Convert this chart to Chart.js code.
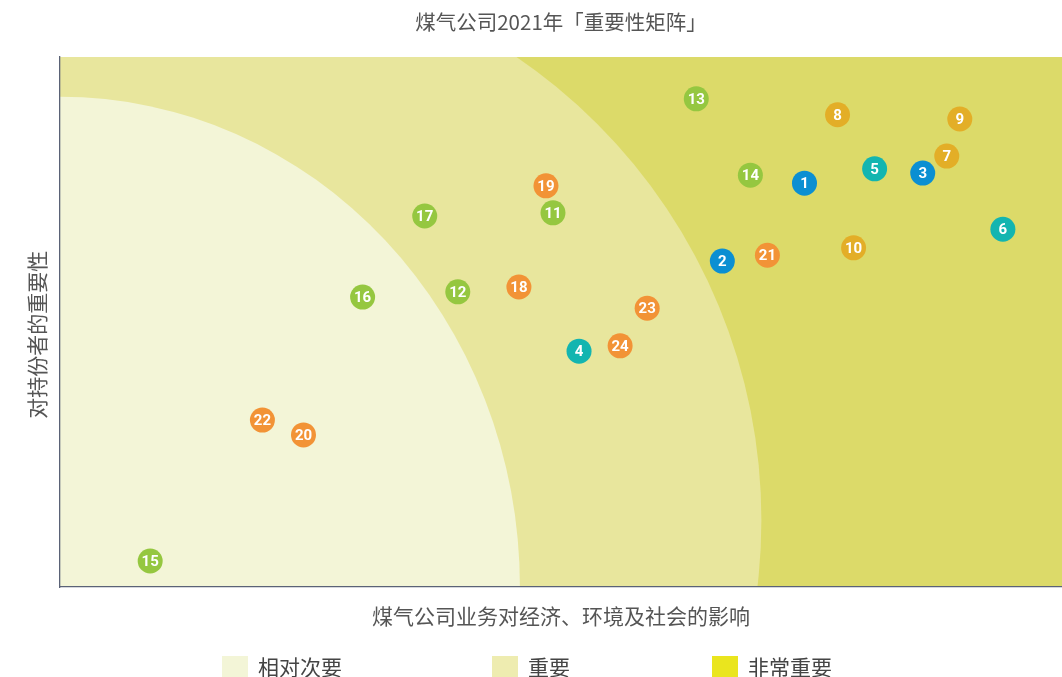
<!DOCTYPE html>
<html>
<head>
<meta charset="utf-8">
<script src="https://cdn.jsdelivr.net/npm/chart.js@4"></script>
<style>
  html, body { margin: 0; padding: 0; background: #fff; overflow: hidden; }
  #wrap { width: 1062px; height: 677px; position: relative; }
  canvas { display: block; }
</style>
</head>
<body>
<div id="wrap"><canvas id="matrix"></canvas></div>
<script>
// numbered issues on the materiality matrix
const issueIds = [1, 2, 3, 4, 5, 6, 7, 8, 9, 10, 11, 12, 13, 14, 15, 16, 17, 18, 19, 20, 21, 22, 23, 24];
// x: impact of the business on economy, environment and society
const impactX = [74.3, 66.1, 86.1, 51.8, 81.3, 94.1, 88.5, 77.6, 89.8, 79.2, 49.2, 39.7, 63.5, 68.9, 9.0, 30.2, 36.4, 45.8, 48.5, 24.3, 70.6, 20.2, 58.6, 55.9];
// y: importance to stakeholders
const importanceY = [76.2, 61.5, 78.1, 44.5, 78.9, 67.5, 81.3, 89.1, 88.3, 64.0, 70.6, 55.7, 92.1, 77.7, 4.9, 54.7, 70.0, 56.6, 75.7, 28.7, 62.6, 31.5, 52.6, 45.5];
const issueGroup = ['blue', 'blue', 'blue', 'teal', 'teal', 'teal', 'gold', 'gold', 'gold', 'gold', 'green', 'green', 'green', 'green', 'green', 'green', 'green', 'orange', 'orange', 'orange', 'orange', 'orange', 'orange', 'orange'];

const zoneLabels = ['相对次要', '重要', '非常重要'];

const groupColors = {
  blue: '#0b8fd2',
  teal: '#13b5b0',
  gold: '#e3ae27',
  green: '#95c740',
  orange: '#f29336'
};
const zoneColors = ['#f3f5d7', '#e8e69d', '#dcda69'];
const legendColors = ['#f3f5d7', '#eeecb0', '#eae51e'];

const cjk = "'Noto Sans CJK SC', 'Noto Sans', sans-serif";

// background zones, drawn through the scales (ellipses in data units)
const zonePlugin = {
  id: 'zones',
  beforeDraw(chart) {
    const { ctx, chartArea: a, scales: { x, y } } = chart;
    const ell = (cx, cy, rx, ry, color) => {
      const px = x.getPixelForValue(cx), py = y.getPixelForValue(cy);
      const prx = Math.abs(x.getPixelForValue(cx + rx) - px);
      const pry = Math.abs(y.getPixelForValue(cy + ry) - py);
      ctx.beginPath();
      ctx.ellipse(px, py, prx, pry, 0, 0, Math.PI * 2);
      ctx.fillStyle = color;
      ctx.fill();
    };
    ctx.save();
    ctx.beginPath();
    ctx.rect(a.left, a.top, a.right - a.left, a.bottom - a.top);
    ctx.clip();
    ctx.fillStyle = zoneColors[2];
    ctx.fillRect(a.left, a.top, a.right - a.left, a.bottom - a.top);
    ell(14, 12.6, 56, 105.8, zoneColors[1]);
    ell(0, 0, 45.9, 92.5, zoneColors[0]);
    ctx.restore();
  }
};

// numbers inside the dots
const numberPlugin = {
  id: 'numbers',
  afterDatasetsDraw(chart) {
    const { ctx } = chart;
    const meta = chart.getDatasetMeta(0);
    ctx.save();
    ctx.fillStyle = '#ffffff';
    ctx.font = "bold 15px 'Liberation Sans Narrow', Roboto, sans-serif";
    ctx.textAlign = 'center';
    ctx.textBaseline = 'middle';
    meta.data.forEach((pt, i) => {
      ctx.fillText(String(issueIds[i]), pt.x, pt.y + 1);
    });
    ctx.restore();
  }
};

// legend row at the bottom
const legendPlugin = {
  id: 'zoneLegend',
  afterDraw(chart) {
    const { ctx } = chart;
    const starts = [222, 492, 712];
    ctx.save();
    ctx.font = '21px ' + cjk;
    ctx.textBaseline = 'middle';
    ctx.textAlign = 'left';
    zoneLabels.forEach((lab, i) => {
      ctx.fillStyle = legendColors[i];
      ctx.fillRect(starts[i], 656, 26, 24);
      ctx.fillStyle = '#444';
      ctx.fillText(lab, starts[i] + 36, 667);
    });
    ctx.restore();
  }
};

const points = issueIds.map((id, i) => ({ x: impactX[i], y: importanceY[i] }));

new Chart(document.getElementById('matrix'), {
  type: 'scatter',
  data: {
    datasets: [{
      label: '议题',
      data: points,
      backgroundColor: issueGroup.map(g => groupColors[g]),
      borderWidth: 0,
      pointRadius: 12.5,
      pointHoverRadius: 12.5
    }]
  },
  options: {
    responsive: true,
    maintainAspectRatio: false,
    animation: false,
    layout: { padding: 0, autoPadding: false },
    plugins: {
      legend: { display: false },
      tooltip: { enabled: false },
      title: {
        display: true,
        fullSize: false,
        text: '煤气公司2021年「重要性矩阵」',
        color: '#555',
        font: { family: cjk, size: 20.5, weight: 'normal' },
        padding: { top: 10, bottom: 22.4 }
      }
    },
    scales: {
      x: {
        type: 'linear',
        min: 0,
        max: 100,
        grid: { display: false },
        ticks: { display: false },
        border: { display: true, color: '#5a6276', width: 1.3, dash: [1.3, 5] },
        title: {
          display: true,
          text: '煤气公司业务对经济、环境及社会的影响',
          color: '#555',
          font: { family: cjk, size: 21 },
          padding: { top: 0, bottom: 48 }
        },
        afterFit(scale) { scale.height = 90; }
      },
      y: {
        type: 'linear',
        min: 0,
        max: 100,
        grid: { display: false },
        ticks: { display: false },
        border: { display: true, color: '#5a6276', width: 1.3, dash: [1.3, 5] },
        title: {
          display: true,
          text: '对持份者的重要性\u3000 ',
          color: '#555',
          font: { family: cjk, size: 21 },
          padding: { top: 24, bottom: 0 }
        },
        afterFit(scale) { scale.width = 60; }
      }
    }
  },
  plugins: [zonePlugin, numberPlugin, legendPlugin]
});
</script>
</body>
</html>
